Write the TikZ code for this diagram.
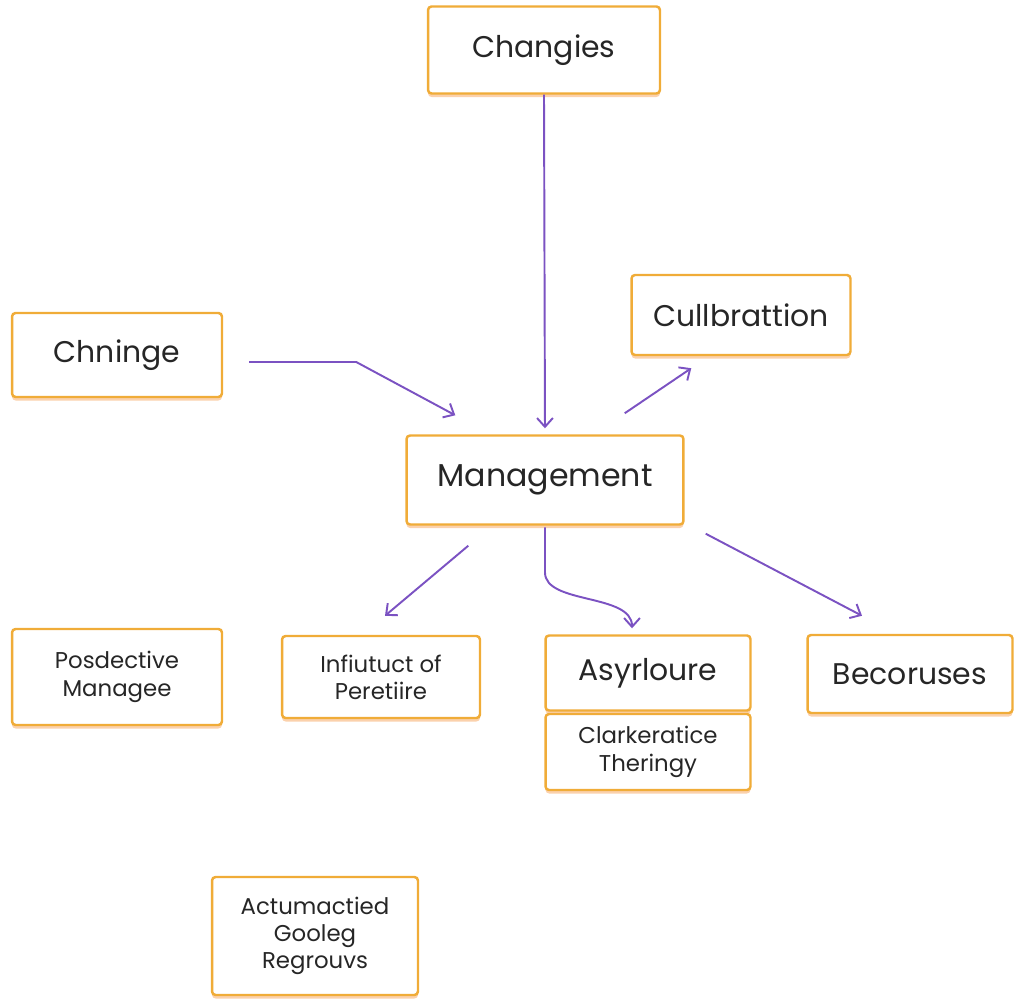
\documentclass[tikz,border=0pt]{standalone}
\usepackage{fontspec}
\setmainfont{Poppins}
\usetikzlibrary{arrows.meta,shadows}
\definecolor{boxorange}{HTML}{F0AC38}
\definecolor{glow}{HTML}{F7A45A}
\definecolor{arrowpurple}{HTML}{7B52C2}
\definecolor{inkgray}{HTML}{262626}
\tikzset{
  box/.style = {draw = boxorange, line width = 1.4pt, rounded corners = 2pt, fill = white,
    align = center, inner sep = 2pt, text = inkgray,
    drop shadow = {shadow xshift = 0pt, shadow yshift = -2pt, fill = glow, opacity = 0.5}},
  bigtext/.style = {font = \fontsize{17}{20}\selectfont},
  smalltext/.style = {font = \fontsize{13}{15.5}\selectfont},
  arr/.style = {draw = arrowpurple, line width = 1.1pt, -{Straight Barb[length = 5pt, width = 9pt]}}
}
\begin{document}
\begin{tikzpicture}[x = 0.02cm, y = -0.02cm]
  \useasboundingbox (0,0) rectangle (1025,1003);
  \node[box, bigtext, minimum width = 4.64cm, minimum height = 1.74cm] (changies) at (544,50) {Changies};
  \node[box, bigtext, minimum width = 4.2cm, minimum height = 1.68cm] (chninge) at (117,355) {Chninge};
  \node[box, bigtext, minimum width = 4.38cm, minimum height = 1.6cm] (cullbr) at (741,315) {Cullbrattion};
  \node[box, font = \fontsize{18}{21}\selectfont, minimum width = 5.54cm, minimum height = 1.78cm] (mgmt) at (545,480) {Management};
  \node[box, smalltext, minimum width = 4.2cm, minimum height = 1.92cm] (posd) at (117,677) {Posdective\\Managee};
  \node[box, smalltext, minimum width = 3.96cm, minimum height = 1.64cm] (infl) at (381,677) {Infiutuct of\\Peretiire};
  \node[box, bigtext, minimum width = 4.1cm, minimum height = 1.5cm] (asyr) at (648,673) {Asyrloure};
  \node[box, smalltext, minimum width = 4.1cm, minimum height = 1.52cm] (clark) at (648,752) {Clarkeratice\\Theringy};
  \node[box, bigtext, minimum width = 4.1cm, minimum height = 1.56cm] (becor) at (910,674) {Becoruses};
  \node[box, smalltext, minimum width = 4.12cm, minimum height = 2.36cm] (actum) at (315,936) {Actumactied\\Gooleg\\Regrouvs};
  \draw[arr, shorten >= 0.12cm] (changies.south) -- (mgmt.north);
  \draw[arr] ([shift = {(26,7)}]chninge.east) -- ++(107,0) -- ([shift = {(50,-19)}]mgmt.north west);
  \draw[arr] ([shift = {(-60,-21)}]mgmt.north east) -- ([shift = {(61,12)}]cullbr.south west);
  \draw[arr] ([shift = {(63,20)}]mgmt.south west) -- ([shift = {(4,-19)}]infl.north);
  \draw[arr] ([yshift = -1pt]mgmt.south) -- ++(0,45) .. controls +(0,32) and +(0,-35) .. ([shift = {(-16,-6)}]asyr.north);
  \draw[arr] ([shift = {(21,8)}]mgmt.south east) -- ([shift = {(-48,-18)}]becor.north);
\end{tikzpicture}
\end{document}
